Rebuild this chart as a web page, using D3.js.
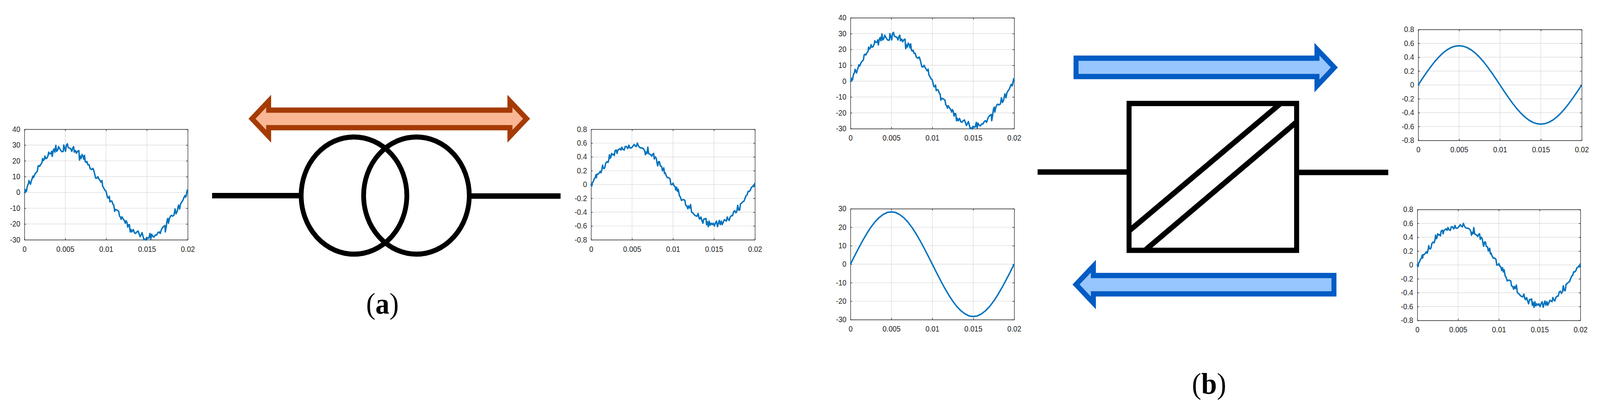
<!DOCTYPE html>
<html>
<head>
<meta charset="utf-8">
<title>Transformer and converter waveforms</title>
<script src="https://cdn.jsdelivr.net/npm/d3@7"></script>
<style>
  html, body { margin: 0; background: #fff; overflow: hidden; }
  text { font-family: "Liberation Sans", Arial, sans-serif; }
  .tick text { font-size: 19.5px; fill: #262626; }
  text.caption { font-family: "Liberation Serif", "Times New Roman", serif; font-size: 76px; fill: #000; }
</style>
</head>
<body>
<div id="chart"></div>
<script>
// tick labels
var xTicks = [0, 0.005, 0.01, 0.015, 0.02];
var voltTicks = [-30, -20, -10, 0, 10, 20, 30, 40];
var voltTicksClean = [-30, -20, -10, 0, 10, 20, 30];
var currTicks = [-0.8, -0.6, -0.4, -0.2, 0, 0.2, 0.4, 0.6, 0.8];

// noisy voltage: [time in 10 microseconds, value]
var voltNoisy = [[0,-0.5],[6,0.2],[10,1.8],[16,0.5],[22,1.2],[26,0.8],[32,3],[40,4.5],[50,5.5],[56,7.5],[67,6],[75,5.2],[83,7],[97,9],[103,10.3],[113,9.5],[123,10.8],[133,12],[143,12.5],[159,13.5],[167,16.5],[177,17],[187,16.5],[198,17.5],[208,18.3],[216,19],[222,21.5],[232,20.2],[244,21],[252,23],[260,21.5],[272,21.5],[288,23],[298,25.5],[308,24.5],[323,24.5],[333,26],[341,22.8],[353,26.5],[363,27.5],[373,25.5],[385,29.8],[395,26],[409,27],[419,29],[429,28],[446,26.5],[460,25.8],[476,26],[482,30],[494,28],[504,26],[514,30],[526,30.8],[536,28.5],[550,28],[566,27.8],[581,26],[591,28],[603,29],[611,25.5],[627,26.5],[637,24.8],[651,26],[667,26.5],[675,20.5],[685,23],[695,21.5],[706,24],[718,23],[728,21],[736,23.5],[746,19.5],[756,19],[766,19.5],[778,17.5],[792,17.5],[806,15],[823,14.5],[839,15.2],[849,14],[859,12],[873,9],[887,9],[899,10],[913,8.5],[927,7.5],[937,6.5],[950,7.5],[958,4],[970,3],[984,1.5],[998,1],[1010,-1.5],[1020,-3.5],[1030,-3.5],[1040,-2.5],[1048,-6],[1058,-5.5],[1071,-5.5],[1085,-7.5],[1095,-8],[1105,-12],[1115,-10.8],[1135,-11.2],[1155,-12],[1165,-15],[1175,-15.5],[1185,-17],[1195,-15.5],[1212,-17],[1226,-18],[1236,-19.5],[1246,-18],[1256,-19],[1266,-22],[1276,-20.5],[1286,-20.5],[1296,-25],[1306,-23.5],[1316,-25],[1333,-23.5],[1347,-25.5],[1361,-26],[1377,-25],[1393,-24.5],[1407,-26.5],[1417,-28],[1433,-26.5],[1441,-25.5],[1454,-28],[1464,-30],[1478,-29.5],[1488,-30.2],[1498,-28.5],[1512,-29],[1524,-29],[1538,-26],[1548,-29.5],[1558,-26.5],[1575,-28],[1589,-28.2],[1603,-27],[1619,-27],[1635,-25.5],[1649,-25],[1663,-26],[1679,-23.5],[1689,-22.5],[1706,-21.5],[1720,-21],[1726,-25],[1736,-22],[1746,-18],[1756,-16.5],[1764,-19.5],[1776,-16.5],[1790,-15],[1800,-14.5],[1814,-15],[1831,-14.5],[1845,-10.5],[1857,-13.5],[1871,-12],[1887,-8],[1901,-10.5],[1911,-7.5],[1927,-6],[1941,-5],[1956,-3],[1966,-2],[1976,-3],[1986,-1],[1994,1.5],[2000,0]];

// noisy current: [time in 10 microseconds, value]
var currNoisy = [[0,0.01],[5,-0.02],[10,-0.02],[17,0.03],[26,0.04],[38,0.08],[52,0.1],[59,0.14],[66,0.1],[72,0.15],[86,0.15],[100,0.17],[112,0.19],[121,0.17],[131,0.21],[141,0.28],[148,0.24],[159,0.23],[169,0.25],[179,0.31],[193,0.33],[207,0.32],[217,0.36],[224,0.43],[231,0.38],[241,0.39],[250,0.45],[262,0.43],[276,0.44],[284,0.42],[293,0.49],[307,0.5],[317,0.45],[328,0.5],[341,0.51],[353,0.52],[365,0.5],[376,0.54],[388,0.51],[405,0.5],[417,0.55],[431,0.55],[448,0.52],[462,0.57],[474,0.53],[491,0.53],[509,0.55],[526,0.58],[540,0.56],[552,0.55],[565,0.6],[578,0.56],[591,0.54],[607,0.53],[621,0.53],[638,0.52],[655,0.49],[664,0.43],[672,0.47],[683,0.45],[693,0.54],[703,0.45],[715,0.44],[729,0.43],[741,0.41],[753,0.44],[764,0.45],[772,0.37],[784,0.4],[796,0.38],[807,0.3],[814,0.27],[824,0.33],[836,0.33],[845,0.27],[862,0.26],[871,0.2],[879,0.22],[888,0.24],[896,0.16],[905,0.17],[917,0.13],[931,0.1],[948,0.1],[965,0.08],[974,0],[991,0],[1000,0.02],[1014,-0.02],[1026,-0.03],[1034,-0.08],[1045,-0.04],[1055,-0.1],[1065,-0.07],[1078,-0.16],[1090,-0.18],[1103,-0.23],[1117,-0.22],[1131,-0.22],[1146,-0.23],[1155,-0.3],[1169,-0.31],[1181,-0.35],[1190,-0.31],[1203,-0.34],[1215,-0.29],[1227,-0.4],[1241,-0.41],[1255,-0.43],[1272,-0.45],[1293,-0.46],[1307,-0.42],[1319,-0.49],[1327,-0.5],[1340,-0.47],[1353,-0.52],[1365,-0.56],[1376,-0.5],[1388,-0.5],[1402,-0.49],[1410,-0.58],[1419,-0.54],[1431,-0.61],[1441,-0.53],[1453,-0.59],[1465,-0.56],[1479,-0.58],[1491,-0.56],[1505,-0.6],[1517,-0.56],[1531,-0.53],[1543,-0.61],[1555,-0.56],[1565,-0.52],[1577,-0.58],[1590,-0.53],[1600,-0.58],[1612,-0.55],[1626,-0.51],[1641,-0.52],[1652,-0.53],[1662,-0.47],[1672,-0.5],[1686,-0.52],[1698,-0.47],[1715,-0.45],[1727,-0.45],[1741,-0.39],[1755,-0.38],[1767,-0.41],[1779,-0.39],[1790,-0.3],[1802,-0.37],[1814,-0.37],[1824,-0.28],[1836,-0.27],[1853,-0.25],[1867,-0.24],[1879,-0.2],[1893,-0.16],[1905,-0.15],[1917,-0.1],[1931,-0.1],[1945,-0.08],[1957,-0.04],[1971,-0.03],[1983,-0.01],[1991,-0.03],[1996,0.01],[2000,0.02]];

// clean waveforms, one value every 50 units of 10 microseconds
var voltClean = [0,4.4,8.7,12.8,16.6,20,22.9,25.2,26.9,28,28.3,28,26.9,25.2,22.9,20,16.6,12.8,8.7,4.4,0,-4.4,-8.7,-12.8,-16.6,-20,-22.9,-25.2,-26.9,-28,-28.3,-28,-26.9,-25.2,-22.9,-20,-16.6,-12.8,-8.7,-4.4,0];
var currClean = [0,0.089,0.175,0.257,0.333,0.4,0.458,0.504,0.538,0.559,0.566,0.559,0.538,0.504,0.458,0.4,0.333,0.257,0.175,0.089,0,-0.089,-0.175,-0.257,-0.333,-0.4,-0.458,-0.504,-0.538,-0.559,-0.566,-0.559,-0.538,-0.504,-0.458,-0.4,-0.333,-0.257,-0.175,-0.089,0];

var W = 4330, H = 1055;
// the real window can be narrower than the figure, so fit the figure to it
var svg = d3.select("#chart").append("svg")
  .attr("width", window.innerWidth).attr("height", window.innerHeight)
  .attr("viewBox", "0 0 " + W + " " + H)
  .attr("preserveAspectRatio", "none")
  .style("display", "block");

var withTime = function(vals) {
  return vals.map(function(v, i) { return [i * 50, v]; });
};

// one small matlab-style plot
function drawPlot(left, top, w, h, yDomain, yTicks, series) {
  var x = d3.scaleLinear().domain([0, 0.02]).range([0, w]);
  var y = d3.scaleLinear().domain(yDomain).range([h, 0]);
  var g = svg.append("g").attr("transform", "translate(" + left + "," + top + ")");

  // grid
  g.append("g").selectAll("line").data(xTicks.slice(1, -1)).join("line")
    .attr("x1", x).attr("x2", x).attr("y1", 0).attr("y2", h)
    .attr("stroke", "#dcdcdc").attr("stroke-width", 1.4);
  g.append("g").selectAll("line").data(yTicks).join("line")
    .attr("x1", 0).attr("x2", w).attr("y1", y).attr("y2", y)
    .attr("stroke", "#dcdcdc").attr("stroke-width", 1.4);

  // axes on all four sides, ticks pointing in
  var fmt = function(d) { return String(d); };
  g.append("g").attr("transform", "translate(0," + h + ")")
    .call(d3.axisBottom(x).tickValues(xTicks).tickFormat(fmt).tickSizeInner(-4.5).tickSizeOuter(0).tickPadding(17));
  g.append("g")
    .call(d3.axisLeft(y).tickValues(yTicks).tickFormat(fmt).tickSizeInner(-4.5).tickSizeOuter(0).tickPadding(11));
  g.append("g").call(d3.axisTop(x).tickValues(xTicks).tickFormat("").tickSizeInner(-4.5).tickSizeOuter(0));
  g.append("g").attr("transform", "translate(" + w + ",0)")
    .call(d3.axisRight(y).tickValues(yTicks).tickFormat("").tickSizeInner(-4.5).tickSizeOuter(0));
  g.selectAll(".domain").attr("stroke", "#262626").attr("stroke-width", 1.4);
  g.selectAll(".tick line").attr("stroke", "#262626").attr("stroke-width", 1.4);

  var line = d3.line()
    .x(function(d) { return x(d[0] * 1e-5); })
    .y(function(d) { return y(d[1]); });
  g.append("path").datum(series)
    .attr("d", line)
    .attr("fill", "none")
    .attr("stroke", "#0072BD")
    .attr("stroke-width", 3.8)
    .attr("stroke-linejoin", "round");
}

drawPlot(66, 331, 442, 283, [-30, 40], voltTicks, voltNoisy);
drawPlot(1599.5, 331, 443.5, 283, [-0.8, 0.8], currTicks, currNoisy);
drawPlot(2301.5, 45.5, 443, 284, [-30, 40], voltTicks, voltNoisy);
drawPlot(2301.5, 534.5, 443, 284, [-30, 30], voltTicksClean, withTime(voltClean));
drawPlot(3838, 75.5, 442.5, 284, [-0.8, 0.8], currTicks, withTime(currClean));
drawPlot(3835.5, 536.5, 441.5, 284, [-0.8, 0.8], currTicks, currNoisy);

// block diagram parts
function wire(x1, x2, y) {
  svg.append("line").attr("x1", x1).attr("x2", x2).attr("y1", y).attr("y2", y)
    .attr("stroke", "#000").attr("stroke-width", 14);
}
function arrow(points, fill, stroke) {
  svg.append("path").attr("d", d3.line()(points) + "Z")
    .attr("fill", fill).attr("stroke", stroke)
    .attr("stroke-width", 13.5).attr("stroke-linejoin", "miter").attr("stroke-miterlimit", 10);
}

// (a) transformer
wire(574, 815, 501);
wire(1270, 1517, 502);
[958, 1127].forEach(function(cx) {
  svg.append("ellipse").attr("cx", cx).attr("cy", 500.7).attr("rx", 143).attr("ry", 150)
    .attr("fill", "none").attr("stroke", "#000").attr("stroke-width", 13);
});
arrow([[682,304],[727,259],[727,282],[1380,282],[1380,259],[1425,304],[1380,349],[1380,327],[727,327],[727,349]], "#FBB795", "#A53B03");

// (b) converter
wire(2808, 3055, 440.6);
wire(3509, 3757, 441.5);
svg.append("rect").attr("x", 3055.5).attr("y", 265).attr("width", 453.5).attr("height", 376)
  .attr("fill", "none").attr("stroke", "#000").attr("stroke-width", 13.5);
svg.append("line").attr("x1", 3056).attr("y1", 591).attr("x2", 3463).attr("y2", 267)
  .attr("stroke", "#000").attr("stroke-width", 14);
svg.append("line").attr("x1", 3101).attr("y1", 639).attr("x2", 3508).attr("y2", 313)
  .attr("stroke", "#000").attr("stroke-width", 14);
arrow([[2912,149],[3564,149],[3564,126],[3611,172.8],[3564,220],[3564,196],[2912,196]], "#97C5FD", "#005BC4");
arrow([[3610,705.5],[2959,705.5],[2959,681.6],[2912,728.6],[2959,775.6],[2959,752.5],[3610,752.5]], "#97C5FD", "#005BC4");

// captions
function caption(cx, y, letter) {
  var t = svg.append("text").attr("class", "caption").attr("x", cx).attr("y", y).attr("text-anchor", "middle");
  t.append("tspan").text("(");
  t.append("tspan").attr("font-weight", "bold").text(letter);
  t.append("tspan").text(")");
}
caption(1035, 803, "a");
caption(3272, 1008, "b");
</script>
</body>
</html>
